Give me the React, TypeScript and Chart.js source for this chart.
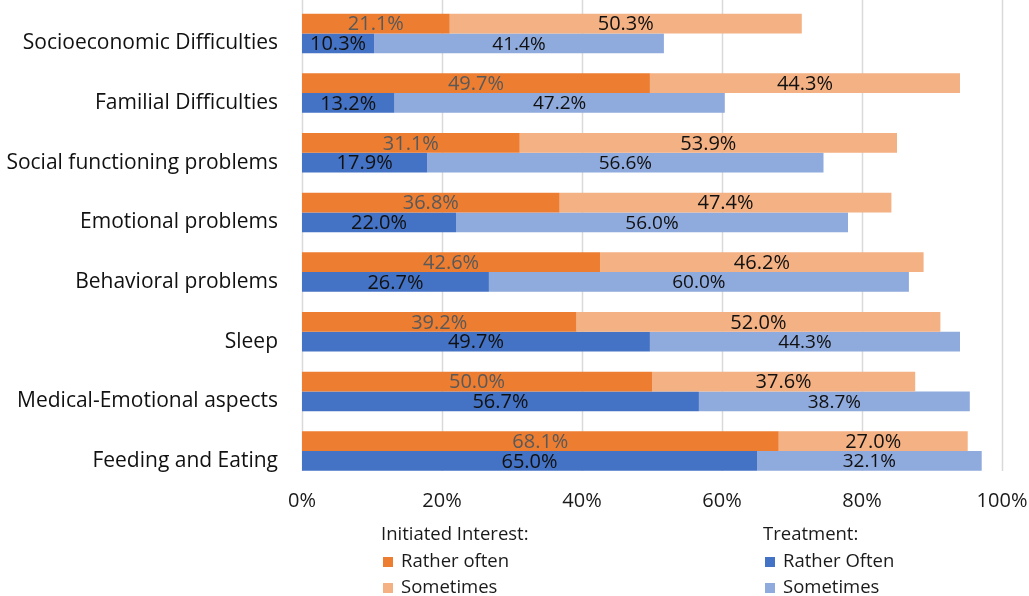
import React, { useEffect, useRef } from "react";
import { Chart, registerables } from "chart.js";

Chart.register(...registerables);

const categories = [
  "Socioeconomic Difficulties",
  "Familial Difficulties",
  "Social functioning problems",
  "Emotional problems",
  "Behavioral problems",
  "Sleep",
  "Medical-Emotional aspects",
  "Feeding and Eating",
];
const interestOften = [21.1, 49.7, 31.1, 36.8, 42.6, 39.2, 50.0, 68.1];
const interestSometimes = [50.3, 44.3, 53.9, 47.4, 46.2, 52.0, 37.6, 27.0];
const treatmentOften = [10.3, 13.2, 17.9, 22.0, 26.7, 49.7, 56.7, 65.0];
const treatmentSometimes = [41.4, 47.2, 56.6, 56.0, 60.0, 44.3, 38.7, 32.1];
const xTickValues = [0, 20, 40, 60, 80, 100];

const FONT = '"Open Sans", "DejaVu Sans", sans-serif';
const C_IO = "#ED7D31";
const C_IS = "#F4B183";
const C_TO = "#4472C4";
const C_TS = "#8FAADC";

const labelColors = ["#595959", "#111111", "#111111", "#111111"];
const labelSizes = [20, 20, 20, 19];

const gridPlugin = {
  id: "fullGrid",
  beforeDatasetsDraw(chart: any) {
    const ctx = chart.ctx;
    const xs = chart.scales.x;
    ctx.save();
    ctx.strokeStyle = "#d9d9d9";
    ctx.lineWidth = 1.5;
    xTickValues.forEach((v) => {
      const px = Math.round(xs.getPixelForValue(v)) + 0.5;
      ctx.beginPath();
      ctx.moveTo(px, 0);
      ctx.lineTo(px, 471);
      ctx.stroke();
    });
    ctx.restore();
  },
};

const labelPlugin = {
  id: "barLabels",
  afterDatasetsDraw(chart: any) {
    const ctx = chart.ctx;
    ctx.save();
    ctx.textAlign = "center";
    ctx.textBaseline = "middle";
    chart.data.datasets.forEach((ds: any, i: number) => {
      const meta = chart.getDatasetMeta(i);
      ctx.fillStyle = labelColors[i];
      ctx.font = `${labelSizes[i]}px ${FONT}`;
      meta.data.forEach((bar: any, j: number) => {
        const p = bar.getProps(["x", "y", "base"], true);
        const cx = (p.x + p.base) / 2;
        ctx.fillText(ds.data[j].toFixed(1) + "%", cx, p.y + 1);
      });
    });
    ctx.restore();
  },
};

const legendPlugin = {
  id: "customLegend",
  afterDraw(chart: any) {
    const ctx = chart.ctx;
    ctx.save();
    ctx.textAlign = "left";
    ctx.textBaseline = "middle";
    ctx.font = `18.5px ${FONT}`;
    const groups = [
      { x: 381, title: "Initiated Interest:", items: [["Rather often", C_IO], ["Sometimes", C_IS]] },
      { x: 763, title: "Treatment:", items: [["Rather Often", C_TO], ["Sometimes", C_TS]] },
    ];
    groups.forEach((g) => {
      ctx.fillStyle = "#1a1a1a";
      ctx.fillText(g.title, g.x, 535);
      g.items.forEach((it, k) => {
        const yy = 562 + k * 26;
        ctx.fillStyle = it[1];
        ctx.fillRect(g.x + 2, yy - 5, 10, 10);
        ctx.fillStyle = "#1a1a1a";
        ctx.fillText(it[0], g.x + 20, yy);
      });
    });
    ctx.restore();
  },
};

const zeroPad = (s: any) => {
  s.paddingTop = 0;
  s.paddingBottom = 0;
  s.paddingLeft = 0;
  s.paddingRight = 0;
};

export default function App() {
  const ref = useRef<HTMLCanvasElement>(null);
  useEffect(() => {
    if (!ref.current) return;
    const chart = new Chart(ref.current, {
      type: "bar",
      data: {
        labels: categories,
        datasets: [
          { label: "Interest Rather often", data: interestOften, backgroundColor: C_IO, stack: "interest" },
          { label: "Interest Sometimes", data: interestSometimes, backgroundColor: C_IS, stack: "interest" },
          { label: "Treatment Rather Often", data: treatmentOften, backgroundColor: C_TO, stack: "treatment" },
          { label: "Treatment Sometimes", data: treatmentSometimes, backgroundColor: C_TS, stack: "treatment" },
        ],
      },
      options: {
        indexAxis: "y",
        responsive: false,
        animation: false,
        categoryPercentage: 0.662,
        barPercentage: 1,
        layout: { padding: { left: 0, right: 27, top: 3.6, bottom: 75.1 } },
        plugins: { legend: { display: false }, tooltip: { enabled: false } },
        scales: {
          x: {
            stacked: true,
            min: 0,
            max: 100,
            border: { display: false },
            grid: { display: false, drawTicks: false },
            ticks: {
              stepSize: 20,
              padding: 8,
              color: "#1a1a1a",
              font: { family: FONT, size: 20 },
              callback: (v: any) => v + "%",
            },
            afterFit: (s: any) => {
              s.height = 40;
              zeroPad(s);
            },
          },
          y: {
            stacked: true,
            border: { display: false },
            grid: { display: false, drawTicks: false },
            ticks: {
              padding: 24,
              labelOffset: 10,
              color: "#111111",
              font: { family: FONT, size: 21 },
            },
            afterFit: (s: any) => {
              s.width = 302;
              zeroPad(s);
            },
          },
        },
      } as any,
      plugins: [gridPlugin, labelPlugin, legendPlugin],
    });
    return () => chart.destroy();
  }, []);
  return (
    <div style={{ position: "fixed", left: 0, top: 0, width: 1029, height: 596, background: "#fff" }}>
      <canvas ref={ref} width={1029} height={596} />
    </div>
  );
}
